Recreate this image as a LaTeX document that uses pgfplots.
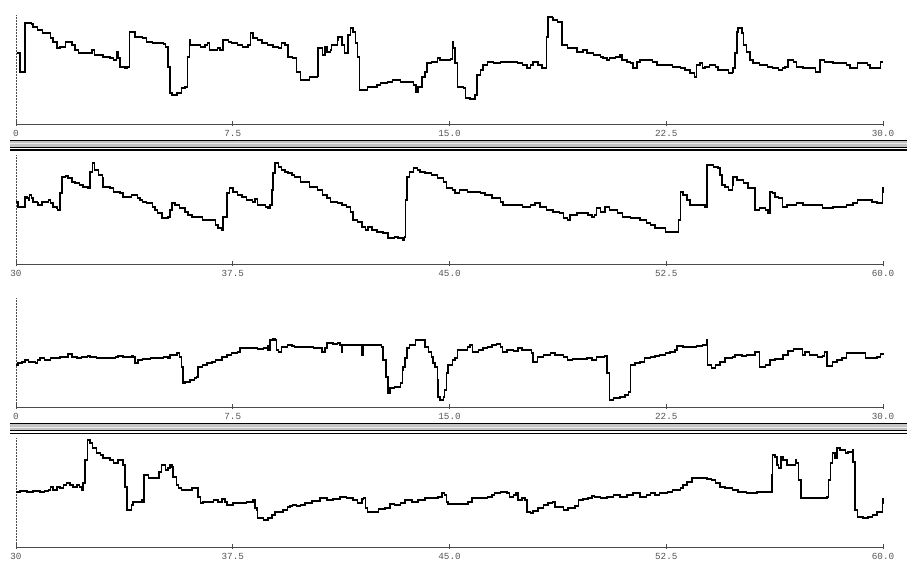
\documentclass[border=0pt]{standalone}
\usepackage{pgfplots}
\pgfplotsset{compat=1.18}
\usepackage{fontspec}
\newfontfamily\ticksfont{Liberation Mono}

\definecolor{sepgray}{HTML}{C4C4C4}
\definecolor{axgray}{HTML}{4A4A4A}
\definecolor{lblgray}{HTML}{555555}

\pgfplotsset{
  trace panel/.style={
    width=867pt, height=109pt, scale only axis,
    ymin=0, ymax=109,
    axis x line=bottom, axis y line=left,
    axis line style={-, axgray, line width=0.8pt},
    y axis line style={densely dashed, dash pattern=on 2pt off 1pt},
    ytick=\empty,
    xtick align=center, major tick length=5pt,
    tick style={axgray, line width=0.8pt},
    xticklabel style={anchor=base, yshift=-10.5pt, text=lblgray,
      font=\ticksfont\fontsize{9.3}{10}\selectfont},
    clip=false,
  },
  first half/.style={xmin=0, xmax=30, xtick={0,7.5,15,22.5,30},
    xticklabels={0,7.5,15.0,22.5,30.0}},
  second half/.style={xmin=30, xmax=60, xtick={30,37.5,45,52.5,60},
    xticklabels={30,37.5,45.0,52.5,60.0}},
  trace/.style={black, line width=1.15pt, mark=none, const plot, line join=miter},
}

\begin{document}
\begin{tikzpicture}[x=1pt,y=1pt]
\path[use as bounding box, fill=white] (0,0) rectangle (907,561);

% double rule between the two upper and the two lower records
\foreach \dy in {0,283.5}{
  \fill[sepgray] (10,420-\dy) rectangle (907,414-\dy);
  \draw[black!8, line width=0.6pt] (10,417.5-\dy) -- (907,417.5-\dy);
  \draw[black, line width=1.1pt] (10,420.7-\dy) -- (907,420.7-\dy);
  \draw[black, line width=1.2pt] (10,413.7-\dy) -- (907,413.7-\dy);
  \draw[black, line width=1.5pt] (10,411.2-\dy) -- (907,411.2-\dy);
}

% ---- record A, 0-30 s ----
\begin{axis}[trace panel, first half, at={(16pt,437pt)}, anchor=south west]
\addplot[trace] coordinates {
(0.02,71) (0.14,52) (0.31,101) (0.55,100) (0.59,97) (0.73,94) (0.90,94) (0.93,91)
(1.07,91) (1.18,86) (1.28,82) (1.42,76) (1.52,77) (1.70,82) (1.80,82) (1.94,79)
(2.04,74) (2.15,71) (2.49,71) (2.63,74) (2.73,69) (2.91,69) (3.01,67) (3.25,66)
(3.36,64) (3.46,64) (3.49,72) (3.53,66) (3.60,57) (3.77,56) (3.84,57) (3.94,92)
(4.05,92) (4.12,87) (4.29,87) (4.39,86) (4.53,82) (4.71,81) (4.88,81) (5.09,80)
(5.16,77) (5.26,57) (5.33,31) (5.40,29) (5.57,31) (5.74,36) (5.85,37) (5.92,67)
(5.99,84) (6.02,79) (6.19,79) (6.37,77) (6.54,79) (6.64,81) (6.71,74) (6.82,74)
(6.96,76) (7.06,74) (7.16,84) (7.34,82) (7.47,81) (7.65,79) (7.85,77) (8.03,79)
(8.10,91) (8.20,86) (8.37,84) (8.51,81) (8.69,79) (8.89,77) (9.07,76) (9.20,81)
(9.31,79) (9.41,67) (9.58,66) (9.65,66) (9.72,52) (9.83,44) (10.17,47) (10.42,48)
(10.45,76) (10.59,76) (10.62,69) (10.69,77) (10.76,72) (10.87,74) (10.93,79) (11.11,84)
(11.14,87) (11.28,79) (11.38,71) (11.49,89) (11.56,96) (11.66,92) (11.76,81) (11.83,67)
(11.90,34) (12.08,34) (12.15,37) (12.49,39) (12.60,41) (12.84,42) (13.04,44) (13.29,42)
(13.53,42) (13.74,39) (13.84,32) (13.91,37) (14.05,47) (14.15,52) (14.22,61) (14.39,62)
(14.57,66) (14.67,64) (14.84,64) (15.02,65) (15.09,82) (15.12,76) (15.19,61) (15.29,37)
(15.47,36) (15.54,26) (15.71,25) (15.88,29) (15.95,49) (16.06,54) (16.16,59) (16.30,62)
(16.51,61) (16.75,62) (16.99,62) (17.34,61) (17.54,59) (17.68,56) (17.79,59) (17.89,62)
(18.06,59) (18.20,56) (18.30,56) (18.37,87) (18.41,107) (18.55,106) (18.58,104) (18.75,102)
(18.86,102) (18.89,79) (19.07,76) (19.27,76) (19.41,72) (19.62,74) (19.76,71) (19.97,69)
(20.21,67) (20.31,66) (20.45,64) (20.55,66) (20.73,67) (20.90,69) (20.97,64) (21.14,62)
(21.25,61) (21.35,56) (21.49,62) (21.59,64) (21.83,64) (22.01,62) (22.18,59) (22.53,59)
(22.73,57) (22.98,56) (23.15,54) (23.32,51) (23.49,47) (23.56,59) (23.67,61) (23.74,56)
(23.84,57) (24.01,59) (24.19,57) (24.29,54) (24.53,54) (24.64,51) (24.78,52) (24.81,56)
(24.88,71) (24.95,92) (24.98,96) (25.05,96) (25.12,91) (25.16,79) (25.29,72) (25.40,64)
(25.50,61) (25.74,59) (25.99,57) (26.19,56) (26.37,54) (26.51,56) (26.61,57) (26.71,64)
(26.89,62) (27.02,57) (27.23,56) (27.47,56) (27.65,52) (27.75,52) (27.82,64) (27.99,62)
(28.27,61) (28.51,61) (28.75,59) (28.86,56) (29.03,56) (29.13,61) (29.31,61) (29.45,59)
(29.55,56) (29.79,56) (29.90,62) (30.00,62)
};
\end{axis}

% ---- record A, 30-60 s ----
\begin{axis}[trace panel, second half, at={(16pt,297pt)}, anchor=south west]
\addplot[trace] coordinates {
(30.00,62) (30.07,57) (30.21,57) (30.31,67) (30.38,66) (30.42,64) (30.48,69) (30.55,66)
(30.59,62) (30.73,61) (30.76,59) (30.90,62) (31.00,62) (31.11,64) (31.18,61) (31.28,57)
(31.42,56) (31.45,54) (31.52,71) (31.59,87) (31.70,88) (31.80,86) (31.94,82) (32.04,81)
(32.21,79) (32.32,77) (32.49,76) (32.56,92) (32.66,101) (32.73,94) (32.84,89) (32.98,86)
(33.01,77) (33.15,77) (33.25,76) (33.36,72) (33.49,72) (33.60,71) (33.70,67) (33.84,67)
(34.01,69) (34.12,69) (34.19,66) (34.29,64) (34.39,62) (34.53,61) (34.71,57) (34.81,54)
(34.91,51) (35.05,46) (35.16,46) (35.26,47) (35.33,54) (35.40,61) (35.50,59) (35.67,56)
(35.85,52) (35.95,49) (36.09,47) (36.26,47) (36.44,44) (36.61,44) (36.78,44) (36.89,39)
(36.99,36) (37.13,34) (37.16,47) (37.30,71) (37.40,76) (37.51,72) (37.65,69) (37.82,67)
(37.99,64) (38.17,62) (38.27,65) (38.37,59) (38.51,59) (38.62,57) (38.72,56) (38.79,59)
(38.86,74) (38.89,91) (38.96,101) (39.07,97) (39.20,94) (39.31,92) (39.41,91) (39.55,89)
(39.65,87) (39.83,82) (40.17,77) (40.42,74) (40.52,74) (40.62,69) (40.76,66) (40.87,62)
(41.11,61) (41.28,59) (41.45,57) (41.56,52) (41.66,44) (41.83,42) (41.97,37) (42.08,34)
(42.18,37) (42.32,34) (42.49,32) (42.70,31) (42.87,26) (43.11,27) (43.22,26) (43.39,24)
(43.43,27) (43.49,64) (43.53,87) (43.63,92) (43.74,96) (43.88,94) (43.98,92) (44.15,91)
(44.39,89) (44.57,86) (44.78,82) (44.91,76) (45.09,74) (45.19,71) (45.36,74) (45.61,72)
(45.81,72) (46.06,71) (46.23,69) (46.40,69) (46.47,66) (46.64,66) (46.75,62) (46.85,59)
(47.09,59) (47.34,59) (47.54,57) (47.79,59) (47.96,61) (48.13,57) (48.37,54) (48.58,52)
(48.82,51) (48.93,46) (49.07,44) (49.17,49) (49.41,51) (49.62,51) (49.79,49) (49.93,47)
(50.03,49) (50.10,56) (50.21,52) (50.38,57) (50.55,54) (50.80,51) (51.00,47) (51.25,46)
(51.49,46) (51.59,44) (51.83,41) (51.94,39) (52.11,36) (52.35,36) (52.46,32) (52.87,32)
(52.91,44) (52.98,72) (53.08,69) (53.22,64) (53.32,59) (53.56,59) (53.84,57) (53.91,99)
(54.12,97) (54.29,96) (54.36,89) (54.43,79) (54.53,77) (54.64,74) (54.78,79) (54.81,87)
(54.95,84) (55.16,81) (55.33,76) (55.50,76) (55.57,54) (55.74,56) (55.92,54) (56.02,51)
(56.09,72) (56.19,71) (56.26,67) (56.37,66) (56.51,57) (56.68,59) (57.02,61) (57.23,59)
(57.58,59) (57.92,56) (58.27,57) (58.51,57) (58.75,59) (58.96,61) (59.13,64) (59.45,64)
(59.62,62) (59.79,61) (59.90,61) (59.97,72) (60.00,77)
};
\end{axis}

% ---- record B, 0-30 s ----
\begin{axis}[trace panel, first half, at={(16pt,154pt)}, anchor=south west]
\addplot[trace] coordinates {
(0.00,42) (0.07,44) (0.21,45) (0.31,47) (0.42,45) (0.55,45) (0.66,44) (0.73,47)
(0.83,49) (1.00,47) (1.18,49) (1.35,49) (1.52,50) (1.70,50) (1.80,53) (1.94,50)
(2.11,49) (2.28,50) (2.46,51) (2.56,50) (2.80,49) (3.01,49) (3.25,49) (3.43,50)
(3.53,51) (3.70,50) (3.88,50) (4.01,51) (4.05,50) (4.12,44) (4.22,47) (4.39,48)
(4.64,49) (4.88,49) (5.09,50) (5.26,49) (5.33,52) (5.47,52) (5.57,54) (5.67,50)
(5.74,40) (5.78,24) (5.85,25) (6.02,27) (6.19,29) (6.26,30) (6.30,40) (6.44,42)
(6.61,44) (6.78,45) (6.89,47) (6.99,47) (7.13,50) (7.30,52) (7.47,54) (7.65,55)
(7.75,59) (7.99,59) (8.20,59) (8.37,58) (8.55,59) (8.69,61) (8.72,57) (8.79,67)
(8.89,68) (8.96,67) (9.00,57) (9.07,55) (9.20,60) (9.38,62) (9.55,61) (9.65,60)
(9.83,60) (10.07,60) (10.28,59) (10.45,59) (10.59,55) (10.69,59) (10.76,64) (10.97,63)
(11.11,64) (11.21,62) (11.28,55) (11.31,62) (11.56,62) (11.83,62) (11.97,52) (12.01,62)
(12.25,62) (12.60,62) (12.66,60) (12.70,47) (12.80,30) (12.87,14) (12.94,19) (13.11,20)
(13.29,24) (13.36,37) (13.39,40) (13.46,49) (13.53,59) (13.63,62) (13.81,67) (14.08,67)
(14.15,60) (14.26,55) (14.39,50) (14.43,44) (14.50,40) (14.57,27) (14.60,10) (14.67,7)
(14.78,10) (14.84,17) (14.91,34) (14.95,42) (15.09,47) (15.19,49) (15.29,57) (15.54,57)
(15.61,60) (15.71,62) (15.81,55) (15.99,57) (16.16,59) (16.30,60) (16.47,62) (16.64,63)
(16.75,60) (16.82,55) (16.99,57) (17.20,56) (17.37,59) (17.51,57) (17.79,57) (17.85,54)
(17.89,45) (18.03,50) (18.24,52) (18.48,54) (18.65,52) (18.93,50) (19.07,47) (19.27,48)
(19.52,48) (19.76,49) (19.93,47) (20.10,50) (20.35,51) (20.45,34) (20.55,7) (20.66,9)
(20.90,10) (21.07,12) (21.18,15) (21.25,42) (21.42,44) (21.59,45) (21.76,49) (21.94,50)
(22.11,51) (22.28,52) (22.46,54) (22.63,55) (22.80,57) (22.87,61) (23.08,60) (23.32,60)
(23.56,61) (23.74,62) (23.88,67) (23.91,67) (23.94,42) (24.08,39) (24.19,42) (24.36,45)
(24.53,49) (24.78,50) (24.88,52) (25.12,51) (25.29,52) (25.57,55) (25.67,55) (25.74,40)
(25.92,42) (26.09,47) (26.26,48) (26.51,48) (26.54,52) (26.71,56) (26.89,58) (27.06,58)
(27.20,52) (27.30,55) (27.47,52) (27.72,50) (27.92,51) (27.99,55) (28.06,41) (28.24,45)
(28.41,47) (28.58,49) (28.75,54) (28.96,54) (29.20,54) (29.31,54) (29.38,49) (29.62,49)
(29.79,50) (29.90,53) (30.00,54)
};
\end{axis}

% ---- record B, 30-60 s ----
\begin{axis}[trace panel, second half, at={(16pt,14pt)}, anchor=south west]
\addplot[trace] coordinates {
(30.00,55) (30.14,56) (30.38,55) (30.59,56) (30.83,55) (31.00,56) (31.11,57) (31.18,60)
(31.28,57) (31.42,60) (31.52,59) (31.63,62) (31.76,64) (31.87,62) (31.97,60) (32.11,62)
(32.21,60) (32.28,57) (32.32,64) (32.39,87) (32.46,107) (32.56,104) (32.66,99) (32.80,94)
(32.91,92) (33.01,89) (33.15,89) (33.25,87) (33.36,84) (33.49,84) (33.53,87) (33.67,87)
(33.70,82) (33.77,60) (33.84,37) (33.94,37) (34.01,42) (34.05,45) (34.22,45) (34.36,47)
(34.39,45) (34.43,72) (34.57,69) (34.88,69) (34.95,75) (35.02,82) (35.09,82) (35.16,77)
(35.26,79) (35.33,82) (35.40,80) (35.43,70) (35.54,62) (35.61,59) (35.74,57) (35.92,57)
(36.09,59) (36.26,59) (36.30,50) (36.37,44) (36.47,45) (36.64,45) (36.82,47) (36.99,45)
(37.13,48) (37.23,45) (37.30,42) (37.51,44) (37.75,44) (37.99,45) (38.17,45) (38.20,47)
(38.27,39) (38.34,37) (38.37,29) (38.55,27) (38.72,29) (38.86,32) (38.96,35) (39.24,37)
(39.38,40) (39.48,41) (39.58,42) (39.72,41) (39.83,42) (40.00,44) (40.24,46) (40.52,49)
(40.76,47) (40.97,48) (41.21,50) (41.45,49) (41.66,47) (41.83,44) (41.97,48) (42.01,49)
(42.08,39) (42.15,35) (42.32,35) (42.53,38) (42.77,39) (42.94,43) (43.11,42) (43.29,44)
(43.46,47) (43.70,45) (43.91,47) (44.15,49) (44.39,49) (44.60,50) (44.74,54) (44.84,52)
(44.91,45) (44.95,43) (45.26,43) (45.61,43) (45.64,45) (45.78,49) (46.06,49) (46.30,50)
(46.47,52) (46.57,54) (46.75,55) (46.99,54) (47.09,50) (47.20,52) (47.30,54) (47.37,47)
(47.51,49) (47.61,47) (47.68,35) (47.79,34) (47.89,36) (48.06,39) (48.24,42) (48.41,44)
(48.55,45) (48.65,40) (48.82,40) (48.93,37) (49.10,39) (49.34,41) (49.45,47) (49.62,48)
(49.79,49) (49.93,51) (50.03,50) (50.21,49) (50.45,50) (50.66,52) (50.90,50) (51.14,52)
(51.35,54) (51.59,50) (51.83,52) (51.94,54) (52.11,52) (52.28,54) (52.53,55) (52.73,57)
(52.98,59) (53.08,62) (53.22,65) (53.39,69) (53.67,69) (53.91,68) (54.08,67) (54.19,64)
(54.36,60) (54.53,59) (54.78,57) (54.98,55) (55.29,54) (55.64,55) (55.99,55) (56.09,55)
(56.16,72) (56.19,92) (56.26,90) (56.33,82) (56.37,79) (56.47,90) (56.54,87) (56.68,82)
(56.85,82) (56.96,87) (57.02,84) (57.09,67) (57.16,49) (57.37,49) (57.72,49) (58.06,50)
(58.10,67) (58.17,84) (58.24,94) (58.34,89) (58.41,99) (58.51,97) (58.69,94) (58.79,95)
(58.93,97) (58.96,85) (59.03,37) (59.13,30) (59.31,29) (59.48,30) (59.65,32) (59.79,35)
(59.90,35) (59.97,44) (60.00,49)
};
\end{axis}
\end{tikzpicture}
\end{document}
